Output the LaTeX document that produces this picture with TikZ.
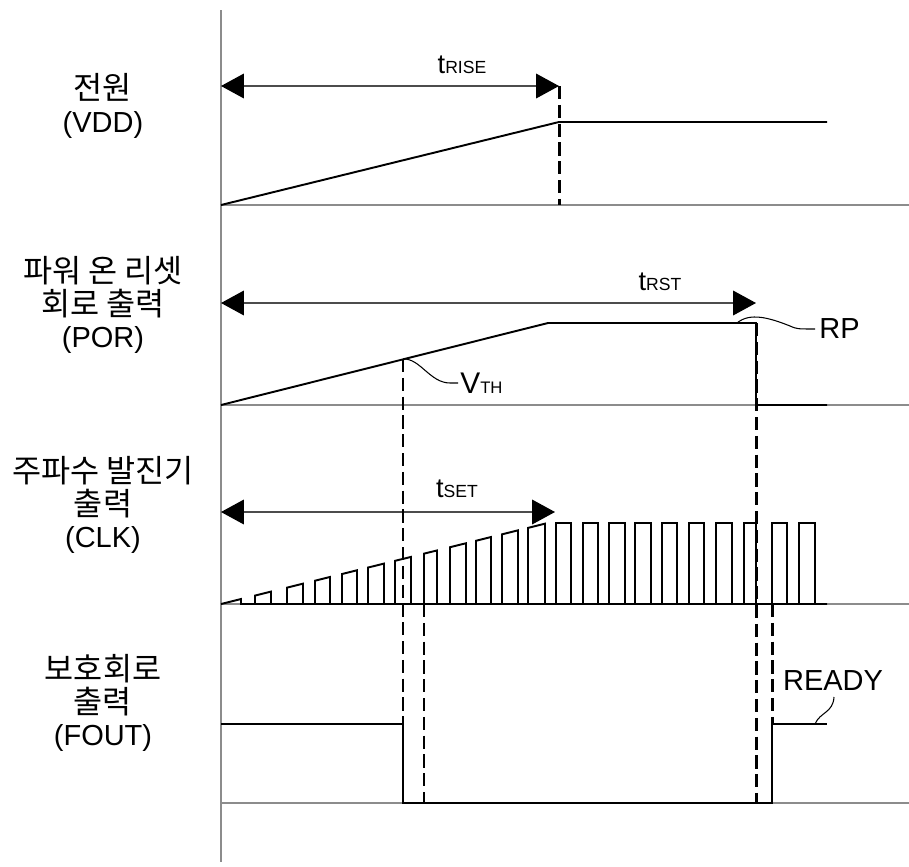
\documentclass[tikz,border=0pt]{standalone}
\usepackage{fontspec}
\setmainfont{Liberation Sans}
\newfontfamily\kr{Noto Sans CJK KR}
\usetikzlibrary{arrows.meta}
\newcommand{\tlab}[2]{{\fontsize{15.5}{18}\selectfont #1}{\fontsize{10}{11}\selectfont #2}}
\newcommand{\vlab}[2]{{\fontsize{17}{20}\selectfont #1}{\fontsize{9.5}{11}\selectfont #2}}
\newcommand{\krl}[1]{{\kr\fontsize{18}{18.3}\selectfont #1}}
\begin{document}
\begin{tikzpicture}[x=0.02cm,y=-0.02cm,>={Triangle[length=13pt,width=14pt]},
  sig/.style={line width=1.1pt,line join=miter},
  axisline/.style={line width=0.8pt,black!45},
  guide/.style={line width=1.7pt,dash pattern=on 7.5pt off 3.2pt},
  dimarrow/.style={{Triangle[length=13pt,width=14pt,fill=black,color=black]}-{Triangle[length=13pt,width=14pt,fill=black,color=black]},line width=0.7pt,black!70},
  leader/.style={line width=0.6pt},
  rowlabel/.style={align=center,font=\fontsize{16.5}{18.3}\selectfont}]
\useasboundingbox (0,0) rectangle (909,866);
% axes
\draw[axisline] (221,10) -- (221,862);
\foreach \y in {205,405,604,803}
  \draw[axisline] (221,\y) -- (909,\y);
% row names
\node[rowlabel] (vdd) at (103,106) {\krl{전원}\\(VDD)};
\node[rowlabel] (por) at (103,305) {\krl{파워 온 리셋}\\\krl{회로 출력}\\(POR)};
\node[rowlabel] (clk) at (103,505) {\krl{주파수 발진기}\\\krl{출력}\\(CLK)};
\node[rowlabel] (fout) at (103,703) {\krl{보호회로}\\\krl{출력}\\(FOUT)};
% VDD
\draw[sig] (221,205) -- (559,122) -- (827,122);
\draw[guide] (559,86) -- (559,205);
\draw[dimarrow] (221,86) -- (559,86);
\node[anchor=base] (trise) at (462,73) {\tlab{t}{RISE}};
% POR
\draw[sig] (221,405) -- (548,323) -- (756,323) -- (756,405) -- (827,405);
\draw[dimarrow] (221,303) -- (756,303);
\node[anchor=base] (trst) at (660,290) {\tlab{t}{RST}};
\draw[leader] (403,359) .. controls (420,358) and (430,383) .. (450,383) -- (458,383);
\node[anchor=base west,inner sep=0pt] (vth) at (460,393) {\vlab{V}{TH}};
\draw[leader] (737,323) .. controls (750,312) and (770,318) .. (790,326) .. controls (797,329) .. (815,329);
\node[anchor=base west,inner sep=0pt] (rp) at (819,338) {\fontsize{16.5}{19}\selectfont RP};
% CLK
\draw[sig] (221,604) -- (241,599) -- (241,604) -- (827,604);
\foreach \r/\f in {255/271,287/303,315/330,342/357,368/384,395/411,424/437,450/466,476/491,502/518,528/545}
  \draw[sig] (\r,604) -- (\r,{604-0.248*(\r-221)}) -- (\f,{604-0.248*(\f-221)}) -- (\f,604);
\foreach \r/\f in {556/571,583/598,609/625,635/651,662/677,689/704,716/732,744/756,772/787,799/815}
  \draw[sig] (\r,604) |- (\f,523) -- (\f,604);
\draw[dimarrow] (221,512) -- (555,512);
\node[anchor=base] (tset) at (457,497) {\tlab{t}{SET}};
% FOUT
\draw[sig] (221,724) -- (403,724) -- (403,803) -- (772,803) -- (772,724) -- (827,724);
\draw[leader] (815,724) .. controls (820,712) and (833,713) .. (834,697);
\node[anchor=base] (ready) at (833,690) {\fontsize{16.5}{19}\selectfont READY};
% guide lines
\draw[guide] (403,359) -- (403,724);
\draw[guide] (424,604) -- (424,803);
\draw[guide] (756,323) -- (756,803);
\draw[guide] (772,604) -- (772,724);
\end{tikzpicture}
\end{document}
